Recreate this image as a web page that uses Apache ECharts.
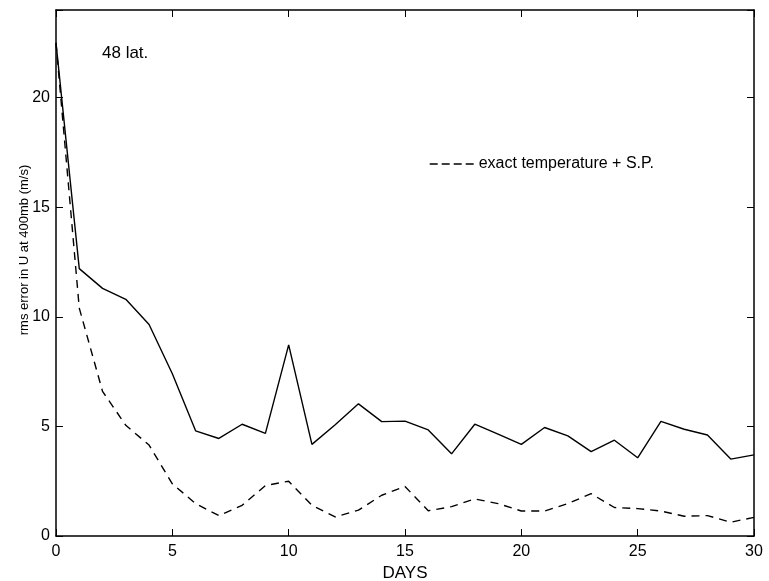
<!DOCTYPE html>
<html>
<head>
<meta charset="utf-8">
<script src="https://cdn.jsdelivr.net/npm/echarts@6/dist/echarts.min.js"></script>
<style>html,body{margin:0;padding:0;background:#fff;}#c{width:769px;height:581px;}</style>
</head>
<body>
<div id="c"></div>
<script>
const days = [0,1,2,3,4,5,6,7,8,9,10,11,12,13,14,15,16,17,18,19,20,21,22,23,24,25,26,27,28,29,30];
const solidValues = [22.5,12.2,11.3,10.8,9.65,7.4,4.8,4.45,5.1,4.68,8.72,4.18,5.08,6.03,5.22,5.24,4.84,3.75,5.1,4.65,4.18,4.95,4.57,3.85,4.37,3.57,5.23,4.87,4.61,3.51,3.7];
const dashedValues = [22.5,10.4,6.6,5.05,4.15,2.38,1.48,0.93,1.4,2.3,2.5,1.4,0.87,1.18,1.86,2.26,1.15,1.34,1.69,1.48,1.14,1.14,1.48,1.93,1.3,1.25,1.14,0.9,0.93,0.63,0.85];
const dashedName = 'exact temperature + S.P.';
const panelLabel = '48 lat.';
const xTitle = 'DAYS';
const yTitle = 'rms error in U at 400mb (m/s)';

const chart = echarts.init(document.getElementById('c'), null, {renderer:'canvas'});
const font = 'Liberation Sans, Arial, Helvetica, sans-serif';
const axisLineStyle = {color:'#000', width:1.5};
const fmt = v => (v % 5 === 0 ? String(v) : '');
chart.setOption({
  animation:false,
  backgroundColor:'#fff',
  grid:{left:56, right:15, top:10, bottom:45, containLabel:false, outerBoundsMode:'none'},
  legend:{
    data:[dashedName],
    left:429, top:156, padding:0,
    itemWidth:44, itemHeight:14, itemGap:4,
    itemStyle:{color:'transparent', borderWidth:0, opacity:0},
    lineStyle:{color:'#000', width:1.4, type:[8,4]},
    textStyle:{fontFamily:font, fontSize:16, color:'#000'},
    selectedMode:false
  },
  graphic:[
    {type:'text', left:102, top:45, style:{text:panelLabel, font:'17px '+font, fill:'#000'}},
    {type:'text', x:24, y:250, rotation:Math.PI/2,
     style:{text:yTitle, font:'13px '+font, fill:'#000', textAlign:'center', textVerticalAlign:'middle'}}
  ],
  xAxis:[{
    type:'value', min:0, max:30, interval:5, position:'bottom',
    name:xTitle, nameLocation:'middle', nameGap:23,
    nameTextStyle:{fontFamily:font, fontSize:17, color:'#000'},
    axisLine:{onZero:false, lineStyle:axisLineStyle},
    axisTick:{inside:true, length:7, lineStyle:{color:'#000', width:1}},
    axisLabel:{fontFamily:font, fontSize:16, color:'#000', margin:8},
    splitLine:{show:false}
  },{
    type:'value', min:0, max:30, interval:5, position:'top',
    axisLine:{onZero:false, lineStyle:axisLineStyle},
    axisTick:{inside:true, length:7, lineStyle:{color:'#000', width:1}},
    axisLabel:{show:false}, splitLine:{show:false}
  }],
  yAxis:[{
    type:'value', min:0, max:24, interval:5, position:'left',
    axisLine:{show:true, onZero:false, lineStyle:axisLineStyle},
    axisTick:{show:true, inside:true, length:7, lineStyle:{color:'#000', width:1}},
    axisLabel:{fontFamily:font, fontSize:16, color:'#000', margin:6, formatter:fmt},
    splitLine:{show:false}
  },{
    type:'value', min:0, max:24, interval:5, position:'right',
    axisLine:{show:true, onZero:false, lineStyle:axisLineStyle},
    axisTick:{show:true, inside:true, length:7, lineStyle:{color:'#000', width:1}},
    axisLabel:{show:false}, splitLine:{show:false}
  }],
  series:[{
    name:'solid', type:'line', xAxisIndex:0, yAxisIndex:0,
    data:days.map((d,i)=>[d, solidValues[i]]),
    showSymbol:false, symbol:'none',
    lineStyle:{color:'#000', width:1.4}
  },{
    name:dashedName, type:'line', xAxisIndex:0, yAxisIndex:0,
    data:days.map((d,i)=>[d, dashedValues[i]]),
    showSymbol:false, symbol:'none',
    itemStyle:{color:'#000'},
    lineStyle:{color:'#000', width:1.4, type:[8,6]}
  }]
});
</script>
</body>
</html>
